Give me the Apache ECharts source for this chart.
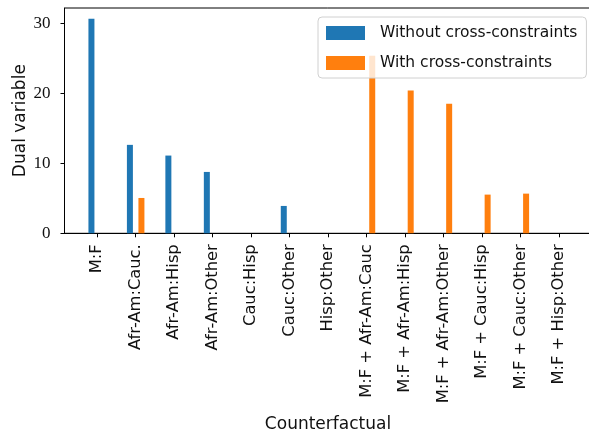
<!DOCTYPE html>
<html>
<head>
<meta charset="utf-8">
<script src="https://cdn.jsdelivr.net/npm/echarts@6/dist/echarts.min.js"></script>
<style>html,body{margin:0;padding:0;background:#fff;overflow:hidden;}#c{width:589px;height:433px;}</style>
</head>
<body>
<div id="c"></div>
<script>
const categories = ["M:F","Afr-Am:Cauc.","Afr-Am:Hisp","Afr-Am:Other","Cauc:Hisp","Cauc:Other","Hisp:Other","M:F + Afr-Am:Cauc","M:F + Afr-Am:Hisp","M:F + Afr-Am:Other","M:F + Cauc:Hisp","M:F + Cauc:Other","M:F + Hisp:Other"];
const withoutCross = [30.67, 12.64, 11.11, 8.77, 0, 3.91, 0, 0, 0, 0, 0, 0, 0];
const withCross = [0, 5.05, 0, 0, 0, 0, 0, 25.38, 20.41, 18.5, 5.53, 5.67, 0];
const yTicks = [0, 10, 20, 30];
const seriesNames = ["Without cross-constraints", "With cross-constraints"];

const idx = categories.map((_, i) => i);
const serif = '"Liberation Serif", serif';
const sans = '"DejaVu Sans", sans-serif';
const chart = echarts.init(document.getElementById('c'), null, {renderer: 'canvas'});
chart.setOption({
  animation: false,
  grid: {left: 64.5, top: 8, width: 527, height: 225.3, show: true, borderColor: '#000', borderWidth: 1,
         backgroundColor: 'transparent', containLabel: false, outerBoundsMode: 'none'},
  legend: {
    orient: 'vertical', left: 318, top: 17,
    padding: [8, 9, 7, 8], itemGap: 14, itemWidth: 39, itemHeight: 14,
    borderColor: '#d0d0d0', borderWidth: 1, borderRadius: 4,
    backgroundColor: 'rgba(255,255,255,0.8)',
    icon: 'rect',
    textStyle: {fontFamily: sans, fontSize: 15.5, color: '#111', padding: [0, 0, 0, 10]},
    data: seriesNames
  },
  xAxis: {
    type: 'value', min: -0.85, max: 12.85,
    splitLine: {show: false},
    axisLine: {show: true, onZero: false, lineStyle: {color: '#000', width: 1}},
    axisTick: {show: true, customValues: idx, length: 4, lineStyle: {color: '#000'}},
    axisLabel: {customValues: idx, rotate: 90, margin: 11, fontFamily: sans, fontSize: 16.3, color: '#111',
      formatter: v => categories[Math.round(v)]},
    name: 'Counterfactual', nameLocation: 'middle', nameGap: 183, nameMoveOverlap: false,
    nameTextStyle: {fontFamily: sans, fontSize: 17, color: '#111'}
  },
  yAxis: {
    type: 'value', min: 0, max: 32.2,
    splitLine: {show: false},
    axisLine: {show: true, onZero: false, lineStyle: {color: '#000', width: 1}},
    axisTick: {show: true, customValues: yTicks, length: 4, lineStyle: {color: '#000'}},
    axisLabel: {customValues: yTicks, margin: 14, fontFamily: serif, fontSize: 17, color: '#111'},
    name: 'Dual variable', nameLocation: 'middle', nameGap: 35, nameRotate: 90, nameMoveOverlap: false,
    nameTextStyle: {fontFamily: sans, fontSize: 17, color: '#111'}
  },
  series: [
    {name: seriesNames[0], type: 'bar', barWidth: 6, barGap: '92%', itemStyle: {color: '#1f77b4'},
     data: withoutCross.map((v, i) => [i, v])},
    {name: seriesNames[1], type: 'bar', barWidth: 6, barGap: '92%', itemStyle: {color: '#ff7f0e'},
     data: withCross.map((v, i) => [i, v])}
  ]
});
</script>
</body>
</html>
